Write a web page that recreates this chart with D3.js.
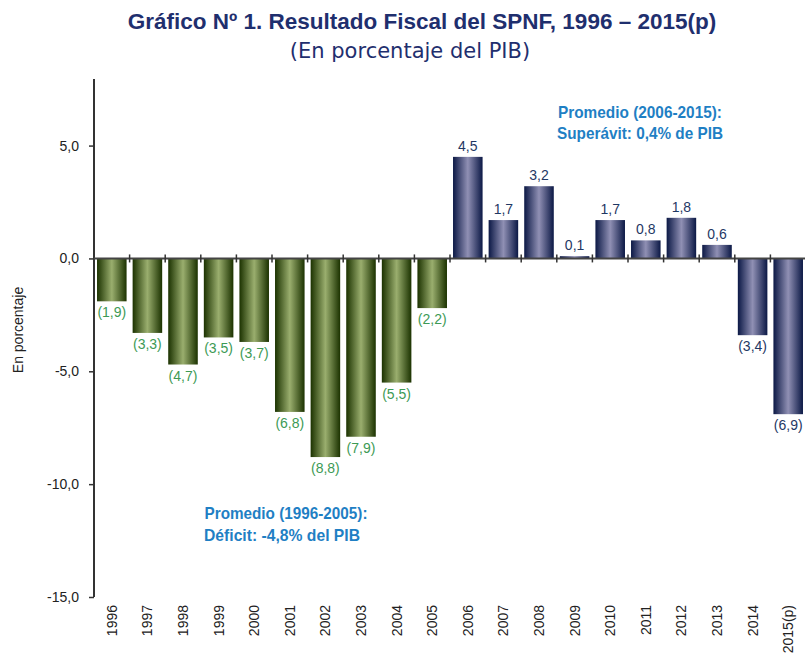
<!DOCTYPE html>
<html>
<head>
<meta charset="utf-8">
<script src="https://d3js.org/d3.v7.min.js"></script>
<style>
    body { margin: 0; background: #fff; }
    svg text { font-family: "Liberation Sans", Arial, sans-serif; }
</style>
</head>
<body>
<svg id="chart" width="805" height="665"></svg>
<script>
    // data
    var years = ["1996", "1997", "1998", "1999", "2000", "2001", "2002", "2003", "2004", "2005",
        "2006", "2007", "2008", "2009", "2010", "2011", "2012", "2013", "2014", "2015(p)"];
    var values = [-1.9, -3.3, -4.7, -3.5, -3.7, -6.8, -8.8, -7.9, -5.5, -2.2,
        4.5, 1.7, 3.2, 0.1, 1.7, 0.8, 1.8, 0.6, -3.4, -6.9];
    var yTicks = [5, 0, -5, -10, -15];

    var data = years.map(function (y, i) { return { year: y, value: values[i], period: i < 10 ? 0 : 1 }; });

    var svg = d3.select("#chart");
    var comma = function (v) { return v.toFixed(1).replace(".", ","); };

    var x = d3.scaleBand().domain(years).range([94, 806]).paddingInner(0.17).paddingOuter(0.085);
    var y = d3.scaleLinear().domain([-15, 7.95]).range([597, 79]);

    // gradients for cylinder look
    var defs = svg.append("defs");
    function grad(id, dark, light) {
        var g = defs.append("linearGradient").attr("id", id).attr("x1", "0%").attr("x2", "100%");
        g.append("stop").attr("offset", "0%").attr("stop-color", dark);
        g.append("stop").attr("offset", "50%").attr("stop-color", light);
        g.append("stop").attr("offset", "100%").attr("stop-color", dark);
    }
    grad("gGreen", "#1b3200", "#9aae6e");
    grad("gBlue", "#0b1845", "#9090b4");

    // title
    svg.append("text").attr("x", 422).attr("y", 29).attr("text-anchor", "middle")
        .style("font-size", "22.5px").style("font-weight", "bold").style("fill", "#1f2f6e")
        .text("Gráfico Nº 1. Resultado Fiscal del SPNF, 1996 – 2015(p)");
    svg.append("text").attr("x", 410).attr("y", 58).attr("text-anchor", "middle")
        .style("font-size", "21px").style("fill", "#1f2f6e").style("font-family", "'DejaVu Sans', sans-serif")
        .text("(En porcentaje del PIB)");

    // bars
    svg.selectAll(".bar").data(data).enter().append("rect")
        .attr("x", function (d) { return x(d.year); })
        .attr("y", function (d) { return y(Math.max(0, d.value)); })
        .attr("width", x.bandwidth())
        .attr("height", function (d) { return Math.abs(y(d.value) - y(0)); })
        .style("fill", function (d) { return d.period === 0 ? "url(#gGreen)" : "url(#gBlue)"; });

    // value labels
    svg.selectAll(".lbl").data(data).enter().append("text")
        .attr("x", function (d) { return x(d.year) + x.bandwidth() / 2; })
        .attr("y", function (d) { return d.value >= 0 ? y(d.value) - 6 : y(d.value) + 16; })
        .attr("text-anchor", "middle")
        .style("font-size", "14px")
        .style("fill", function (d) { return d.period === 0 ? "#3d9a55" : "#1f3864"; })
        .text(function (d) { return d.value >= 0 ? comma(d.value) : "(" + comma(-d.value) + ")"; });

    // y axis
    var yAxis = svg.append("g").attr("transform", "translate(94,0)")
        .call(d3.axisLeft(y).tickValues(yTicks).tickSize(5).tickPadding(10).tickFormat(comma));
    yAxis.select(".domain").remove();
    yAxis.selectAll("line").attr("stroke", "#333").attr("stroke-width", 1.5);
    yAxis.selectAll("text").style("font-size", "14px").style("fill", "#222");
    svg.append("line").attr("x1", 94).attr("x2", 94).attr("y1", 79).attr("y2", 597)
        .attr("stroke", "#333").attr("stroke-width", 2);

    // zero line with category ticks
    svg.append("line").attr("x1", 94).attr("x2", 806).attr("y1", y(0)).attr("y2", y(0))
        .attr("stroke", "#444").attr("stroke-width", 2);
    var step = x.step();
    svg.selectAll(".xt").data(years.slice(1)).enter().append("line")
        .attr("x1", function (d) { return x(d) - (step - x.bandwidth()) / 2; })
        .attr("x2", function (d) { return x(d) - (step - x.bandwidth()) / 2; })
        .attr("y1", y(0) - 4).attr("y2", y(0) + 4)
        .attr("stroke", "#333").attr("stroke-width", 1.5);

    // x labels (rotated)
    svg.selectAll(".xl").data(years).enter().append("text")
        .attr("transform", function (d) { return "translate(" + (x(d) + x.bandwidth() / 2 + 5) + ",605) rotate(-90)"; })
        .attr("text-anchor", "end")
        .style("font-size", "14px").style("fill", "#222")
        .text(function (d) { return d; });

    // y axis title
    svg.append("text").attr("transform", "translate(23,330) rotate(-90)")
        .attr("text-anchor", "middle").style("font-size", "14px").style("fill", "#222")
        .text("En porcentaje");

    // annotations (condensed bold look)
    function note(xc, yb, txt, w) {
        svg.append("text").attr("x", xc - w / 2).attr("y", yb)
            .attr("textLength", w).attr("lengthAdjust", "spacingAndGlyphs")
            .style("font-size", "16.5px").style("font-weight", "bold").style("fill", "#1f7fc4")
            .text(txt);
    }
    note(640, 118, "Promedio (2006-2015):", 164);
    note(640, 139, "Superávit: 0,4% de PIB", 166);
    note(286, 519, "Promedio (1996-2005):", 163);
    note(282, 541, "Déficit: -4,8% del PIB", 156);
</script>
</body>
</html>
